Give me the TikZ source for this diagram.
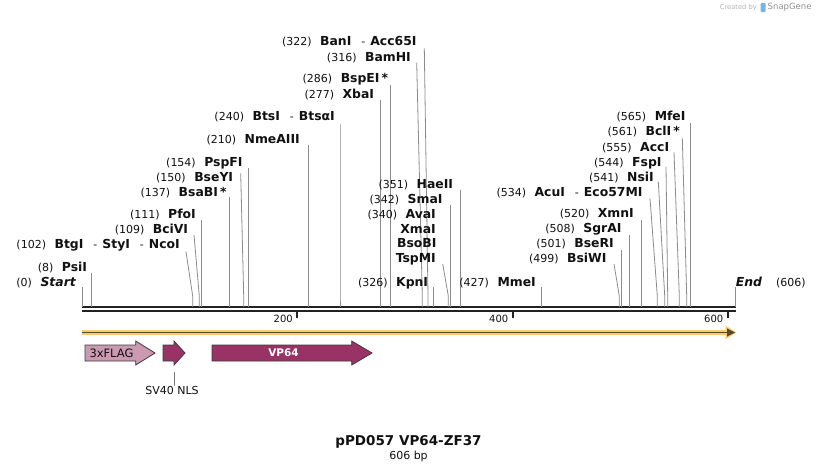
\documentclass[tikz,border=0pt]{standalone}
\usepackage{fontspec}
\setmainfont{DejaVu Sans}
\usetikzlibrary{positioning,arrows.meta,calc}
\definecolor{ink}{RGB}{17,17,17}
\definecolor{cutgray}{RGB}{140,140,140}
\definecolor{bbone}{RGB}{34,34,34}
\definecolor{outl}{RGB}{60,60,60}
\definecolor{flagpink}{RGB}{204,153,178}
\definecolor{nlsplum}{RGB}{153,51,102}
\definecolor{orfyel}{RGB}{249,204,112}
\definecolor{orfbrown}{RGB}{88,72,46}
\definecolor{creditgray}{RGB}{180,180,180}
\definecolor{iconblue}{RGB}{120,180,225}
\newcommand{\enzname}[1]{{\fontsize{12.4}{14}\selectfont\bfseries #1}}
\newcommand{\enzgap}{\hspace{8.5pt}}
\newcommand{\enzdash}{\hspace{10pt}-\hspace{5pt}}
\tikzset{
  enz/.style={anchor=base east, inner sep=0pt, font=\fontsize{11}{13}\selectfont, text=ink},
  cutline/.style={draw=cutgray, line width=0.8pt},
  backbone/.style={draw=bbone, line width=2.2pt},
  scaletick/.style={draw=bbone, line width=2pt},
  ticklbl/.style={anchor=east, inner sep=0pt, font=\fontsize{10}{12}\selectfont, text=ink},
  orfhalo/.style={draw=orfyel, line width=5pt, -{Triangle[length=11pt, width=13pt]}},
  orfline/.style={draw=orfbrown, line width=1.1pt, -{Triangle[length=8pt, width=8pt]}},
  feat/.style={draw=outl, line width=0.8pt},
  featlbl/.style={inner sep=0pt, font=\fontsize{11.5}{13}\selectfont, text=ink},
  credit/.style={inner sep=0pt, font=\fontsize{6.7}{8}\selectfont, text=creditgray},
}

\begin{document}
\begin{tikzpicture}[x=1pt, y=-1pt]
  \useasboundingbox[fill=white] (0,0) rectangle (818,472);

  % sequence backbone
  \coordinate (seq-start) at (81.7,307);
  \coordinate (seq-end) at (736.3,307);
  \draw[backbone] (seq-start) -- (seq-end);
  \draw[backbone] ([yshift=-4pt]seq-start) -- ([yshift=-4pt]seq-end);

  \foreach \p/\xx in {200/297, 400/512.5, 600/727.5} {
    \draw[scaletick] (\xx,311) -- (\xx,318);
    \node[ticklbl] (tick\p) at (\xx-4,319) {\p};
  }

  % restriction sites
  \foreach \nm/\txt/\ex/\ly/\tx/\ty/\sx in {
    start/{(0)\enzgap\enzname{\itshape Start}}/76/281.7/82.5/286.7/82.5,
    psi/{(8)\enzgap\enzname{PsiI}}/87.3/266.7/91.3/273.3/91.3,
    btg/{(102)\enzgap\enzname{BtgI}\enzdash\enzname{StyI}\enzdash\enzname{NcoI}}/180/244.3/186/251.7/192.7,
    bci/{(109)\enzgap\enzname{BciVI}}/188.3/229/194/235/199.3,
    pfo/{(111)\enzgap\enzname{PfoI}}/196/214/201.3/220/201.3,
    bsab/{(137)\enzgap\enzname{BsaBI\,*}}/226.7/191.7/229.3/197.3/229.3,
    bsey/{(150)\enzgap\enzname{BseYI}}/233.3/176.7/240.7/173.3/243.7,
    pspf/{(154)\enzgap\enzname{PspFI}}/242.7/162.3/248.3/168.3/248.3,
    nme/{(210)\enzgap\enzname{NmeAIII}}/300/139/308.3/145/308.3,
    bts/{(240)\enzgap\enzname{BtsI}\enzdash\enzname{BtsαI}}/335/116/340/124/340,
    xba/{(277)\enzgap\enzname{XbaI}}/374.3/94/380.3/100/380.3,
    bspe/{(286)\enzgap\enzname{BspEI\,*}}/388.3/78.3/390.3/85/390.3,
    bam/{(316)\enzgap\enzname{BamHI}}/411/57.3/416.7/62.7/422.3,
    ban/{(322)\enzgap\enzname{BanI}\enzdash\enzname{Acc65I}}/416.7/41/424.3/48.3/428,
    hae/{(351)\enzgap\enzname{HaeII}}/453.3/184/460.7/190/460.7,
    sma/{(342)\enzgap\enzname{SmaI}}/442.7/199/450.7/205/450.7,
    tsp/{\enzname{TspMI}}/436/258.3/442.7/264/448.3,
    kpn/{(326)\enzgap\enzname{KpnI}}/428.3/281.7/433.3/287/433.3,
    mme/{(427)\enzgap\enzname{MmeI}}/536/281.7/541.7/287/541.7,
    bsiw/{(499)\enzgap\enzname{BsiWI}}/606.7/258.3/614/264/619.3,
    bser/{(501)\enzgap\enzname{BseRI}}/614/243.3/621.7/250/621.7,
    sgra/{(508)\enzgap\enzname{SgrAI}}/621.7/228.3/629.3/235/629.3,
    xmn/{(520)\enzgap\enzname{XmnI}}/634/213.3/641.7/220/641.7,
    acu/{(534)\enzgap\enzname{AcuI}\enzdash\enzname{Eco57MI}}/642.7/192.3/650/198.3/657.3,
    nsi/{(541)\enzgap\enzname{NsiI}}/654/176.7/658.3/181.7/664.7,
    fsp/{(544)\enzgap\enzname{FspI}}/661.7/161.7/666/166.7/667.7,
    acc/{(555)\enzgap\enzname{AccI}}/669.3/146.7/674/152.3/679.3,
    bcl/{(561)\enzgap\enzname{BclI\,*}}/680/131/682.3/138.3/686.7,
    mfe/{(565)\enzgap\enzname{MfeI}}/685.7/115.7/690.3/123.3/690.3} {
    \coordinate (\nm-cut) at (\sx,307);
    \node[enz] (\nm) at (\ex,\ly+4.4) {\txt};
    \draw[cutline] (\nm.base east) ++({\tx-\ex},{\ty-\ly-4.4})
      -- ([yshift=11pt]\nm-cut) -- (\nm-cut);
  }
  \node[enz] (ava) at (436,218.4) {(340)\enzgap\enzname{AvaI}};
  \node[enz] (xma) at (436,233.4) {\enzname{XmaI}};
  \node[enz] (bsob) at (436.7,247.7) {\enzname{BsoBI}};

  \coordinate (end-cut) at (735.7,307);
  \node[enz, anchor=base west] (end) at (735.7,286.1)
    {\enzname{\itshape End}\hspace{14pt}(606)};
  \draw[cutline] (end.base west) ++(0,0.9) -- (end-cut);

  % orf bar
  \coordinate (orf-s) at (82,332.5);
  \coordinate (orf-e) at (736.5,332.5);
  \draw[orfhalo] (orf-s) -- (orf-e);
  \draw[orfline] (orf-s) -- ([xshift=-1.5pt]orf-e);

  % features
  \draw[feat, fill=flagpink] (85,345) -- (135.7,345) -- (135.7,341) -- (155,353)
    -- (135.7,365) -- (135.7,361) -- (85,361) -- cycle;
  \node[featlbl] (flag) at (111.5,353) {3xFLAG};
  \draw[feat, fill=nlsplum] (163,345) -- (174,345) -- (174,341) -- (185,353)
    -- (174,365) -- (174,361) -- (163,361) -- cycle;
  \draw[feat, fill=nlsplum] (212,345) -- (351.7,345) -- (351.7,341) -- (372,353)
    -- (351.7,365) -- (351.7,361) -- (212,361) -- cycle;
  \node[featlbl, text=white, font=\fontsize{10.5}{12}\selectfont\bfseries] (vp64) at (283.5,353) {VP64};

  \coordinate (nls-tip) at (174.3,371.5);
  \node[featlbl, font=\fontsize{11}{13}\selectfont] (nls) at (172,390) {SV40 NLS};
  \draw[cutline, draw=outl!70] (nls-tip) -- (nls-tip |- nls.north) -- ++(0,-2.5);

  % title
  \node[font=\fontsize{13.5}{15}\selectfont\bfseries, text=ink] (title) at (408.5,441.5) {pPD057 VP64-ZF37};
  \node[font=\fontsize{11}{13}\selectfont, text=ink, below=-1pt of title.south, anchor=north, inner sep=0pt] (len) {606 bp};

  % credit
  \node[credit, anchor=east] (credit-by) at (757,7.5) {Created by};
  \fill[iconblue, rounded corners=1pt] (760.5,3) rectangle (765.5,12);
  \node[credit, anchor=west, font=\fontsize{8.5}{10}\selectfont, text=creditgray!80!black] (credit-sg) at (767.5,7.5) {SnapGene};
\end{tikzpicture}
\end{document}
